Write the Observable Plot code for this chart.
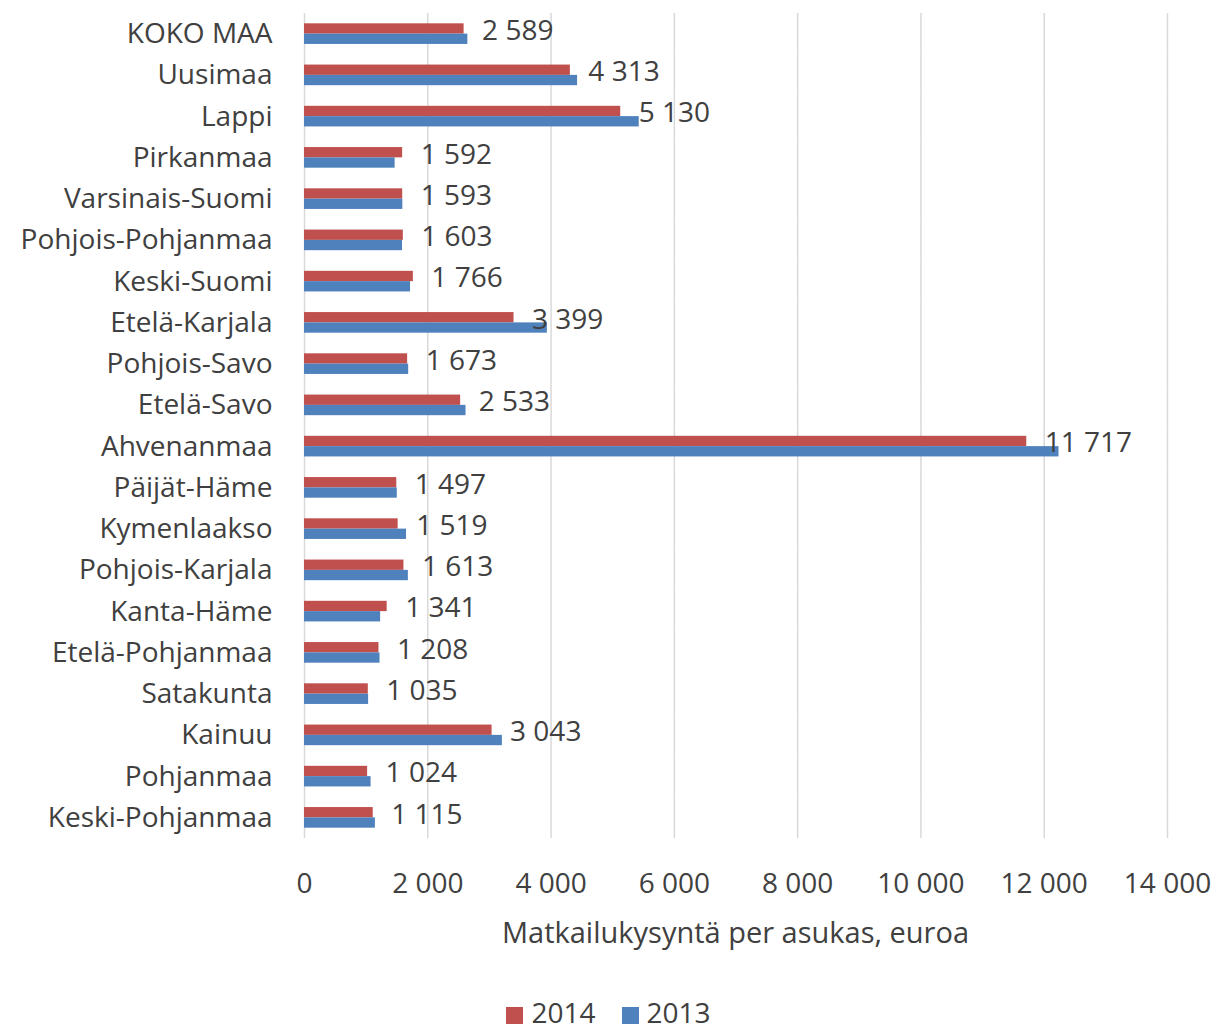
<!DOCTYPE html>
<html>
<head>
<meta charset="utf-8">
<script src="https://cdn.jsdelivr.net/npm/d3@7"></script>
<script src="https://cdn.jsdelivr.net/npm/@observablehq/plot@0.6"></script>
<style>
  html, body { margin: 0; padding: 0; background: #fff; }
  body { width: 1217px; height: 1031px; overflow: hidden; font-family: "Open Sans", Lato, sans-serif; color: #404040; }
  #axisTitle { position: absolute; left: 304px; width: 863px; top: 913px; text-align: center; font-size: 29px; line-height: 38px; }
  #legend { position: absolute; left: 0; width: 1217px; top: 996px; text-align: center; font-size: 28px; line-height: 32px; }
  .sw { display: inline-block; width: 17px; height: 17px; margin-right: 8px; vertical-align: -1px; }
  .item { margin: 0 13px; }
</style>
</head>
<body>
<div id="chart"></div>
<div id="axisTitle">Matkailukysyntä per asukas, euroa</div>
<div id="legend"></div>
<script>
const regions = ["KOKO MAA","Uusimaa","Lappi","Pirkanmaa","Varsinais-Suomi","Pohjois-Pohjanmaa","Keski-Suomi","Etelä-Karjala","Pohjois-Savo","Etelä-Savo","Ahvenanmaa","Päijät-Häme","Kymenlaakso","Pohjois-Karjala","Kanta-Häme","Etelä-Pohjanmaa","Satakunta","Kainuu","Pohjanmaa","Keski-Pohjanmaa"];
const values2014 = [2589,4313,5130,1592,1593,1603,1766,3399,1673,2533,11717,1497,1519,1613,1341,1208,1035,3043,1024,1115];
const values2013 = [2650,4430,5430,1470,1595,1590,1720,3940,1690,2620,12240,1505,1655,1685,1235,1225,1040,3210,1080,1150];
const years = ["2014","2013"];
const colors = ["#C0504D","#4F81BD"];
const xTicks = [0,2000,4000,6000,8000,10000,12000,14000];

const fmt = d3.formatLocale({decimal: ",", thousands: " ", grouping: [3], currency: ["", " €"]}).format(",d");

const rows = [];
regions.forEach((r, i) => {
  rows.push({region: r, year: "2014", value: values2014[i]});
  rows.push({region: r, year: "2013", value: values2013[i]});
});
const labels = rows.filter(d => d.year === "2014");

const chart = Plot.plot({
  width: 1217,
  height: 905,
  marginLeft: 304,
  marginRight: 50,
  marginTop: 13,
  marginBottom: 67,
  style: {fontFamily: "'Open Sans', Lato, sans-serif", fontSize: "28px", color: "#404040", background: "#fff"},
  x: {domain: [0, 14000], ticks: xTicks, tickFormat: fmt, tickSize: 0, tickPadding: 35, label: null},
  fy: {domain: regions, padding: 0, round: false, label: null, axis: null},
  y: {domain: years, paddingInner: 0, paddingOuter: 1, round: false, axis: null},
  color: {domain: years, range: colors},
  marks: [
    Plot.ruleX(xTicks, {stroke: "#d9d9d9", strokeWidth: 1.5}),
    Plot.axisFy({anchor: "left", tickSize: 0, tickPadding: 32, dy: 0, label: null, fontSize: 28}),
    Plot.barX(rows, {x: "value", y: "year", fy: "region", fill: "year"}),
    Plot.text(labels, {x: "value", y: "year", fy: "region", text: d => fmt(d.value), dx: 18, dy: 2, textAnchor: "start", fill: "#404040", fontSize: 28})
  ]
});
document.getElementById("chart").appendChild(chart);

const legend = document.getElementById("legend");
years.forEach((y, i) => {
  const s = document.createElement("span");
  s.className = "item";
  s.innerHTML = `<span class="sw" style="background:${colors[i]}"></span>${y}`;
  legend.appendChild(s);
});
</script>
</body>
</html>
